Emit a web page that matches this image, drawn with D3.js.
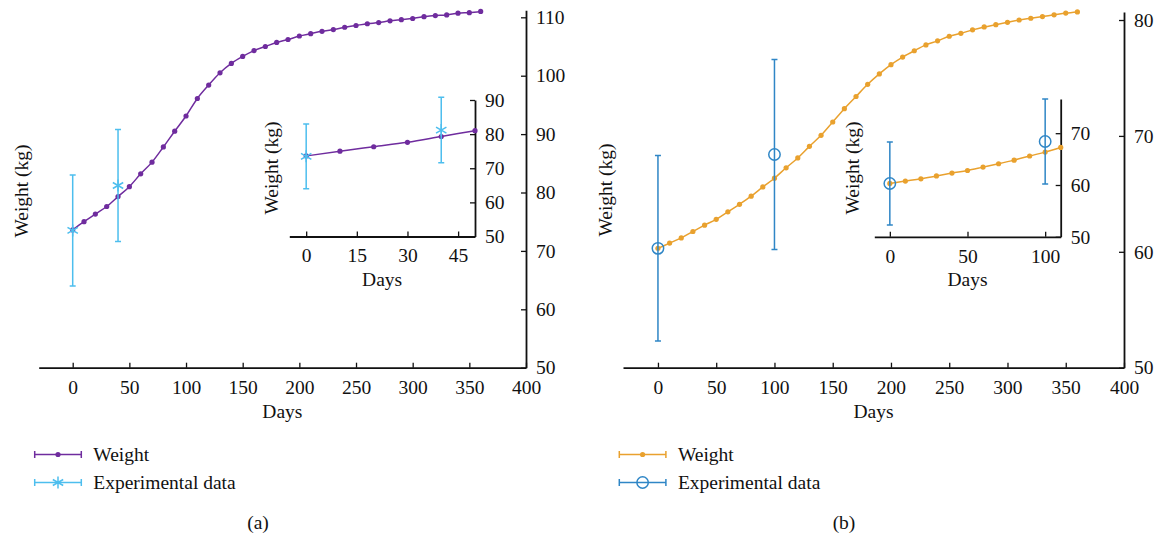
<!DOCTYPE html>
<html>
<head>
<meta charset="utf-8">
<script src="https://cdn.jsdelivr.net/npm/d3@7"></script>
<style>
  body { margin: 0; background: #fff; }
  svg text { font-family: 'Liberation Serif', 'DejaVu Serif', serif; fill: #111; }
</style>
</head>
<body>
<script>
// simulated weight (every 10 days) and measured weights with error bars
const days = [0, 10, 20, 30, 40, 50, 60, 70, 80, 90, 100, 110, 120, 130, 140, 150, 160, 170, 180,
  190, 200, 210, 220, 230, 240, 250, 260, 270, 280, 290, 300, 310, 320, 330, 340, 350, 360];
const weightA = [73.6, 75.0, 76.3, 77.6, 79.3, 81.0, 83.2, 85.2, 87.8, 90.5, 93.1, 96.1, 98.4, 100.5,
  102.1, 103.3, 104.3, 105.0, 105.7, 106.2, 106.8, 107.2, 107.6, 107.9, 108.3, 108.6, 108.9, 109.1,
  109.4, 109.6, 109.8, 110.1, 110.3, 110.4, 110.7, 110.8, 111.0];
const weightB = [60.3, 60.75, 61.2, 61.75, 62.3, 62.8, 63.45, 64.1, 64.8, 65.6, 66.35, 67.25, 68.1,
  69.1, 70.05, 71.2, 72.35, 73.4, 74.45, 75.35, 76.15, 76.8, 77.35, 77.85, 78.2, 78.6, 78.85, 79.15,
  79.4, 79.6, 79.8, 80.0, 80.15, 80.3, 80.45, 80.6, 80.7];
const expDaysA = [0, 40];
const expMeanA = [73.5, 81.2];
const expErrA = [9.5, 9.6];
const expDaysB = [0, 100];
const expMeanB = [60.3, 68.4];
const expErrB = [8.0, 8.2];

const mainDayTicks = [0, 50, 100, 150, 200, 250, 300, 350, 400];
const mainWeightTicksA = [50, 60, 70, 80, 90, 100, 110];
const mainWeightTicksB = [50, 60, 70, 80];
const insetDayTicksA = [0, 15, 30, 45];
const insetWeightTicksA = [50, 60, 70, 80, 90];
const insetDayTicksB = [0, 50, 100];
const insetWeightTicksB = [50, 60, 70];
const legendLabels = ['Weight', 'Experimental data'];

const FONT = '19.5px';

const panels = [
  {
    weight: weightA, expDays: expDaysA, expMean: expMeanA, expErr: expErrA,
    lineColor: '#6f2c9e', expColor: '#4dbeee', marker: 'star',
    main: {
      x: [38.7, 526], y: [367.7, 10.3], xDomain: [-30, 400], yDomain: [50, 111.2],
      xTicks: mainDayTicks, yTicks: mainWeightTicksA, ylabelX: 28, ylabelY: 191, daysY: 418,
    },
    inset: {
      x: [289.3, 475], y: [236.5, 100], xDomain: [-5, 50], yDomain: [50, 90],
      xTicks: insetDayTicksA, yTicks: insetWeightTicksA, ylabelX: 278, ylabelY: 168, daysY: 286,
    },
    legendX: 34.7, label: '(a)', labelX: 258,
  },
  {
    weight: weightB, expDays: expDaysB, expMean: expMeanB, expErr: expErrB,
    lineColor: '#e9a12e', expColor: '#2f86c6', marker: 'circle',
    main: {
      x: [623, 1124], y: [367.7, 11.9], xDomain: [-30, 400], yDomain: [50, 80.7],
      xTicks: mainDayTicks, yTicks: mainWeightTicksB, ylabelX: 612, ylabelY: 190, daysY: 418,
    },
    inset: {
      x: [874.3, 1060.7], y: [236.8, 99], xDomain: [-10, 110], yDomain: [50, 76.6],
      xTicks: insetDayTicksB, yTicks: insetWeightTicksB, ylabelX: 859, ylabelY: 168, daysY: 286,
    },
    legendX: 619.3, label: '(b)', labelX: 844,
  },
];

const svg = d3.select('body')
  .append('svg')
  .attr('width', 1157)
  .attr('height', 537);

function drawMarker(g, type, color, cx, cy) {
  if (type === 'star') {
    g.append('path')
      .attr('d', `M${cx},${cy - 6}V${cy + 6}M${cx - 5.2},${cy - 3}L${cx + 5.2},${cy + 3}M${cx - 5.2},${cy + 3}L${cx + 5.2},${cy - 3}`)
      .attr('stroke', color)
      .attr('stroke-width', 1.5)
      .attr('fill', 'none');
  } else {
    g.append('circle')
      .attr('cx', cx)
      .attr('cy', cy)
      .attr('r', 5.7)
      .attr('fill', 'none')
      .attr('stroke', color)
      .attr('stroke-width', 1.5);
  }
}

function styleAxis(sel) {
  sel.attr('font-family', null).attr('font-size', null);
  sel.select('.domain').attr('stroke', '#111').attr('stroke-width', 1.8);
  sel.selectAll('.tick line').attr('stroke', '#111').attr('stroke-width', 1.3);
  sel.selectAll('.tick text').style('font-size', FONT);
}

function drawPlot(p, box) {
  const g = svg.append('g');
  const x = d3.scaleLinear().domain(box.xDomain).range(box.x);
  const y = d3.scaleLinear().domain(box.yDomain).range(box.y);

  g.append('g')
    .attr('transform', `translate(0,${box.y[0]})`)
    .call(d3.axisBottom(x).tickValues(box.xTicks).tickSizeInner(-5).tickSizeOuter(0).tickPadding(12))
    .call(styleAxis);

  g.append('g')
    .attr('transform', `translate(${box.x[1]},0)`)
    .call(d3.axisRight(y).tickValues(box.yTicks).tickSizeInner(-5).tickSizeOuter(0).tickPadding(10))
    .call(styleAxis);

  const pts = days.map((d, i) => ({ day: d, w: p.weight[i] }))
    .filter((d) => d.day <= box.xDomain[1]);

  const line = d3.line()
    .x((d) => x(d.day))
    .y((d) => y(d.w))
    .curve(d3.curveMonotoneX);

  g.append('path')
    .datum(pts)
    .attr('d', line)
    .attr('fill', 'none')
    .attr('stroke', p.lineColor)
    .attr('stroke-width', 1.5);

  g.selectAll('.dot')
    .data(pts)
    .enter().append('circle')
    .attr('class', 'dot')
    .attr('cx', (d) => x(d.day))
    .attr('cy', (d) => y(d.w))
    .attr('r', 2.6)
    .attr('fill', p.lineColor);

  p.expDays.forEach((d, i) => {
    const cx = x(d);
    const top = y(p.expMean[i] + p.expErr[i]);
    const bot = y(p.expMean[i] - p.expErr[i]);
    g.append('path')
      .attr('d', `M${cx},${top}V${bot}M${cx - 3},${top}H${cx + 3}M${cx - 3},${bot}H${cx + 3}`)
      .attr('stroke', p.expColor)
      .attr('stroke-width', 1.5)
      .attr('fill', 'none');
    drawMarker(g, p.marker, p.expColor, cx, y(p.expMean[i]));
  });

  g.append('text')
    .attr('transform', `translate(${box.ylabelX},${box.ylabelY}) rotate(-90)`)
    .attr('text-anchor', 'middle')
    .style('font-size', FONT)
    .text('Weight (kg)');

  g.append('text')
    .attr('x', (box.x[0] + box.x[1]) / 2)
    .attr('y', box.daysY)
    .attr('text-anchor', 'middle')
    .style('font-size', FONT)
    .text('Days');
}

panels.forEach((p) => {
  drawPlot(p, p.main);
  drawPlot(p, p.inset);

  // legend
  const lg = svg.append('g');
  const x0 = p.legendX;
  const x1 = x0 + 46.6;
  const xm = (x0 + x1) / 2;
  [454.5, 482.5].forEach((ly, i) => {
    const color = i === 0 ? p.lineColor : p.expColor;
    lg.append('path')
      .attr('d', `M${x0},${ly}H${x1}M${x0},${ly - 3.5}V${ly + 3.5}M${x1},${ly - 3.5}V${ly + 3.5}`)
      .attr('stroke', color)
      .attr('stroke-width', 1.5)
      .attr('fill', 'none');
    if (i === 0) {
      lg.append('circle').attr('cx', xm).attr('cy', ly).attr('r', 2.6).attr('fill', color);
    } else {
      drawMarker(lg, p.marker, color, xm, ly);
    }
    lg.append('text')
      .attr('x', x1 + 12)
      .attr('y', ly + 6.5)
      .style('font-size', FONT)
      .text(legendLabels[i]);
  });

  svg.append('text')
    .attr('x', p.labelX)
    .attr('y', 529)
    .attr('text-anchor', 'middle')
    .style('font-size', FONT)
    .text(p.label);
});
</script>
</body>
</html>
